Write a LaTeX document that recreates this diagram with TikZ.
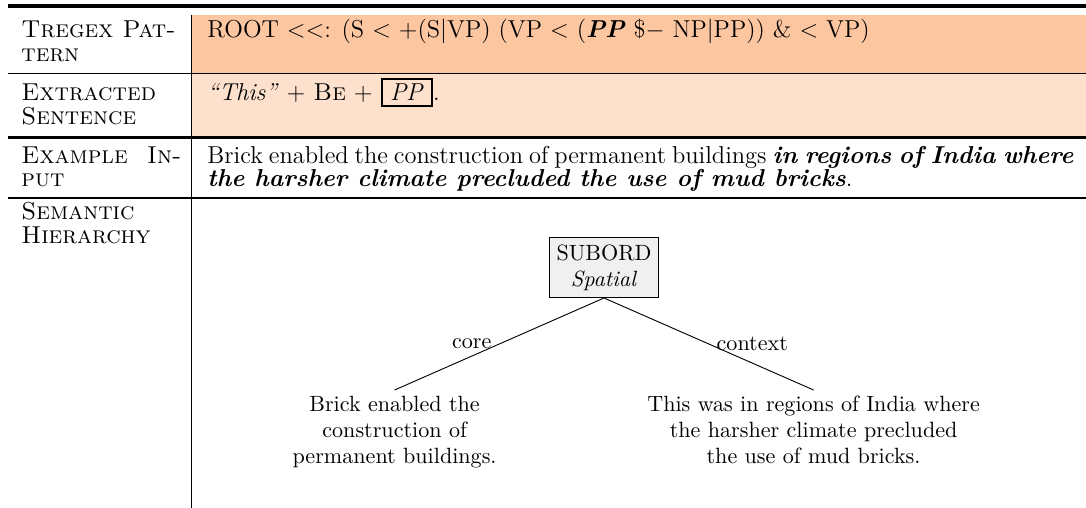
\documentclass[tikz,border=0pt]{standalone}
\usepackage{tikz}
\definecolor{rowA}{RGB}{252,198,160}
\definecolor{rowB}{RGB}{253,225,205}
\definecolor{boxgray}{RGB}{240,240,240}
\newcommand{\tabfont}{\fontsize{11.93}{14}\selectfont}
\newcommand{\treefont}{\fontsize{10.78}{12.7}\selectfont}
\tikzset{
  lbl/.style={anchor=base west, inner sep=0pt, font=\tabfont\scshape},
  txt/.style={anchor=base west, inner sep=0pt, font=\tabfont},
  relbox/.style={draw, fill=boxgray, line width=0.5pt, align=center, inner sep=3.4pt, font=\treefont},
  leaf/.style={align=center, inner sep=2.8pt, anchor=north, font=\treefont},
  edgelbl/.style={inner sep=3.6pt, font=\treefont},
  treeedge/.style={line width=0.45pt}
}
\begin{document}
\begin{tikzpicture}[x=0.4878pt,y=-0.4878pt]
\useasboundingbox (0,0) rectangle (1086,508);
% row fills
\fill[rowA] (192,15) rectangle (1086,73);
\fill[rowB] (192,73) rectangle (1086,137);
% rules
\draw[line width=1.7pt] (8,5.8) -- (1086,5.8);
\draw[line width=0.5pt] (8,73.5) -- (1086,73.5);
\draw[line width=1pt] (8,137.5) -- (1086,137.5);
\draw[line width=1pt] (8,198) -- (1086,198);
\draw[line width=0.8pt] (191.5,15) -- (191.5,508);
% left column
\node[lbl] (l1a) at (21,38) {Tregex Pat-};
\node[lbl] (l1b) at (21,62) {tern};
\node[lbl] (l2a) at (21,101) {Extracted};
\node[lbl] (l2b) at (21,125) {Sentence};
\node[lbl] (l3a) at (21,164) {\makebox[78pt][s]{Example In-}};
\node[lbl] (l3b) at (21,187) {put};
\node[lbl] (l4a) at (21,220) {Semantic};
\node[lbl] (l4b) at (21,244) {Hierarchy};
% right column
\node[txt] (r1) at (207,38) {ROOT $<<$: (S $<$ +(S$|$VP) (VP $<$ (\textbf{\textit{PP}} \$$-$ NP$|$PP)) \& $<$ VP)};
\node[txt] (r2) at (207,101) {\textit{``This''} $+$ \textsc{Be} $+$ {\fboxrule=1pt\fboxsep=2pt\fbox{\hspace{1.6pt}\textit{PP}\hspace{1.6pt}}}.};
\node[txt] (r3a) at (207,164) {\makebox[422.4pt][s]{Brick enabled the construction of permanent buildings \textbf{\textit{in regions of India where}}}};
\node[txt] (r3b) at (207,187) {\textbf{\textit{the harsher climate precluded the use of mud bricks}}.};
% tree
\node[relbox, anchor=south] (sub) at (604,298) {SUBORD\\\textit{Spatial}};
\node[leaf] (lc) at (394.6,390) {Brick enabled the\\construction of\\permanent buildings.};
\node[leaf] (rc) at (813.6,390) {This was in regions of India where\\the harsher climate precluded\\the use of mud bricks.};
\draw[treeedge] (sub.south) -- node[edgelbl, anchor=east] (elc) {core} (lc.north);
\draw[treeedge] (sub.south) -- node[edgelbl, anchor=west] (erc) {context} (rc.north);
\end{tikzpicture}
\end{document}
